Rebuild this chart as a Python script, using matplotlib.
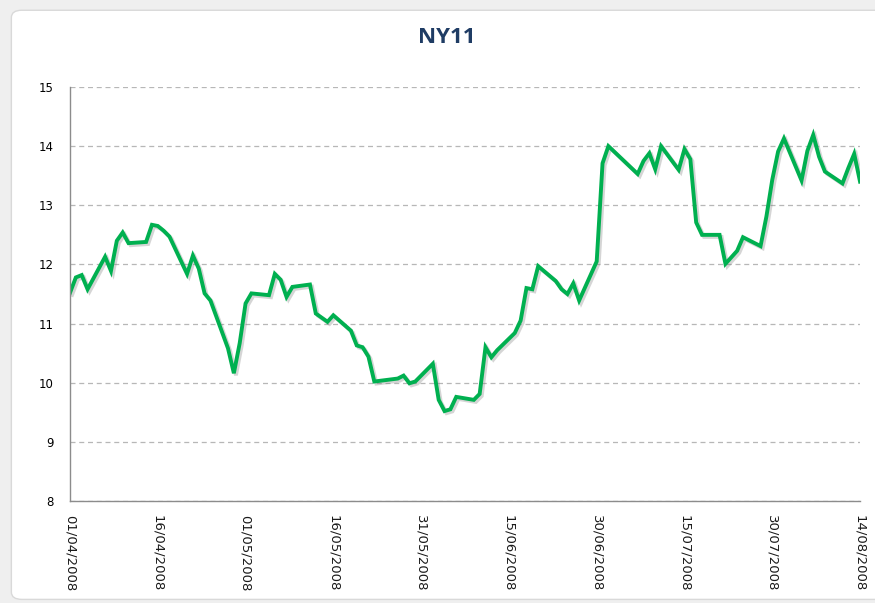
#!/usr/bin/env python3
import numpy as np
import pandas as pd
import matplotlib
matplotlib.use("Agg")
import matplotlib.pyplot as plt
import matplotlib.dates as mdates
import matplotlib.patheffects as pe
from matplotlib.patches import FancyBboxPatch

# ------------------------
# Data (trading days, offset in days from 01/04/2008)
# ------------------------
day_offsets = [
    0, 1, 2, 3, 6, 7, 8, 9, 10, 13, 14, 15, 16, 17, 20, 21, 22, 23, 24,
    27, 28, 29, 30, 31, 34, 35, 36, 37, 38, 41, 42, 44, 45, 48, 49, 50,
    51, 52, 56, 57, 58, 59, 62, 63, 64, 65, 66, 69, 70, 71, 72, 73, 76,
    77, 78, 79, 80, 83, 84, 85, 86, 87, 90, 91, 92, 97, 98, 99, 100, 101,
    104, 105, 106, 107, 108, 111, 112, 114, 115, 118, 119, 120, 121, 122,
    125, 126, 127, 128, 129, 132, 133, 134, 135,
]
prices = [
    11.52, 11.78, 11.82, 11.58, 12.13, 11.89, 12.40, 12.54, 12.36, 12.38,
    12.67, 12.65, 12.57, 12.47, 11.84, 12.15, 11.93, 11.51, 11.39,
    10.58, 10.16, 10.67, 11.34, 11.51, 11.48, 11.84, 11.74, 11.45, 11.62,
    11.66, 11.17, 11.03, 11.14, 10.88, 10.63, 10.60,
    10.44, 10.02, 10.07, 10.12, 9.99, 10.02, 10.32, 9.71, 9.52, 9.55, 9.76,
    9.71, 9.81, 10.60, 10.43, 10.55, 10.84,
    11.05, 11.60, 11.58, 11.97, 11.72, 11.58, 11.50, 11.68, 11.39, 12.05,
    13.71, 14.00, 13.53, 13.75, 13.88, 13.61, 14.00,
    13.60, 13.95, 13.78, 12.71, 12.50, 12.50, 12.01, 12.23, 12.46, 12.31,
    12.81, 13.43, 13.91, 14.13,
    13.42, 13.92, 14.19, 13.82, 13.57, 13.37, 13.63, 13.87, 13.40,
]

start = pd.Timestamp("2008-04-01")
end = pd.Timestamp("2008-08-14")
dates = start + pd.to_timedelta(day_offsets, unit="D")

tick_dates = pd.date_range(start, end, freq="15D")
y_ticks = [8, 9, 10, 11, 12, 13, 14, 15]

fig = plt.figure(figsize=(8.75, 6.03), dpi=100)
fig.patch.set_facecolor("#efefef")

# chart area frame (rounded white box), kept behind the axes
frame = FancyBboxPatch((0.013, 0.006), 1.2, 0.977,
                       boxstyle="round,pad=0,rounding_size=0.012",
                       transform=fig.transFigure, facecolor="white",
                       edgecolor="#d9d9d9", linewidth=1.0, zorder=-10)
fig.patches.append(frame)

ax = fig.add_axes([0.080, 0.1692, 0.9029, 0.6865])
ax.set_facecolor("none")

ax.plot(dates, prices, color="#00B050", linewidth=2.8, solid_joinstyle="miter",
        path_effects=[pe.SimpleLineShadow(offset=(1.5, -1.5), shadow_color="#777777", alpha=0.3),
                      pe.Normal()])

ax.set_xlim(start, end)
ax.set_ylim(8, 15)
ax.set_yticks(y_ticks)
ax.set_xticks(tick_dates)
ax.xaxis.set_major_formatter(mdates.DateFormatter("%d/%m/%Y"))

ax.grid(axis="y", color="#b7b7b7", linestyle=(0, (4, 3)), linewidth=0.9)
ax.set_axisbelow(True)

for s in ["top", "right"]:
    ax.spines[s].set_visible(False)
for s in ["left", "bottom"]:
    ax.spines[s].set_color("#8c8c8c")
    ax.spines[s].set_linewidth(1.0)

ax.tick_params(axis="y", length=0, pad=12, labelsize=8.5, labelcolor="#000000")
ax.tick_params(axis="x", length=0, pad=10, labelsize=9.5, labelcolor="#1a1a1a")
for lbl in ax.get_xticklabels():
    lbl.set_rotation(270)
    lbl.set_ha("center")
    lbl.set_va("top")
    lbl.set_family("DejaVu Sans")

fig.text(0.511, 0.937, "NY11", ha="center", va="center", fontsize=16,
         fontweight="bold", color="#1F3C64", family="Open Sans")

fig.savefig("out.png", dpi=100, facecolor=fig.get_facecolor())
